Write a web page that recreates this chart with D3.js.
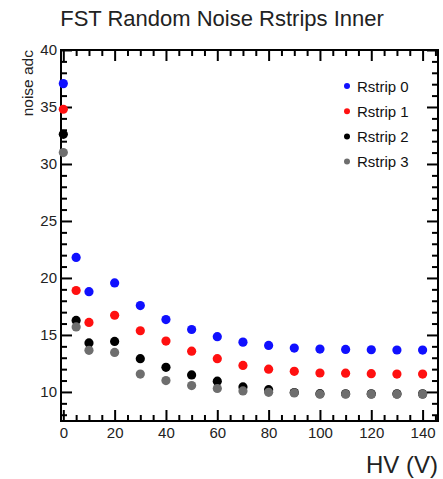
<!DOCTYPE html>
<html>
<head>
<meta charset="utf-8">
<script src="https://cdn.jsdelivr.net/npm/d3@7"></script>
<style>
  body { margin: 0; background: #fff; }
  text { font-family: "Liberation Sans", Arial, sans-serif; }
</style>
</head>
<body>
<div id="chart"></div>
<script>
const hv = [0, 5, 10, 20, 30, 40, 50, 60, 70, 80, 90, 100, 110, 120, 130, 140];
const rstrip0 = [37.05, 21.8, 18.8, 19.56, 17.58, 16.35, 15.48, 14.85, 14.37, 14.08, 13.85, 13.76, 13.73, 13.7, 13.68, 13.67];
const rstrip1 = [34.8, 18.9, 16.1, 16.73, 15.37, 14.46, 13.58, 12.92, 12.33, 12.0, 11.81, 11.66, 11.65, 11.6, 11.57, 11.57];
const rstrip2 = [32.6, 16.27, 14.3, 14.43, 12.92, 12.16, 11.49, 10.94, 10.44, 10.2, 9.95, 9.85, 9.84, 9.83, 9.83, 9.83];
const rstrip3 = [31.0, 15.7, 13.65, 13.47, 11.57, 11.0, 10.56, 10.3, 10.09, 9.97, 9.91, 9.8, 9.8, 9.8, 9.8, 9.8];
const seriesNames = ['Rstrip 0', 'Rstrip 1', 'Rstrip 2', 'Rstrip 3'];
const seriesColors = ['#1010ff', '#ff1010', '#000000', '#6e6e6e'];
const xMajor = [0, 20, 40, 60, 80, 100, 120, 140];
const yMajor = [10, 15, 20, 25, 30, 35, 40];

const width = 443, height = 479;
const margin = { top: 50, right: 5, bottom: 58, left: 61 };

const svg = d3.select('#chart').append('svg')
  .attr('width', width)
  .attr('height', height);

const x = d3.scaleLinear()
  .domain([-0.9, 146])
  .range([margin.left, width - margin.right]);
const y = d3.scaleLinear()
  .domain([7.45, 40])
  .range([height - margin.bottom, margin.top]);

const xMinor = d3.range(0, 146, 5).filter(v => v % 20 !== 0);
const yMinor = d3.range(8, 41, 1).filter(v => v % 5 !== 0);

const fmt = d => d;
const styleAxis = g => {
  g.select('.domain').remove();
  g.selectAll('line').attr('stroke', '#000').attr('stroke-width', 2);
  g.selectAll('text')
    .attr('fill', '#222')
    .attr('font-size', 15)
    .attr('font-family', '"Liberation Sans", Arial, sans-serif');
};

// bottom axis
svg.append('g')
  .attr('transform', `translate(0,${height - margin.bottom})`)
  .call(d3.axisBottom(x).tickValues(xMajor).tickFormat(fmt).tickSizeInner(-11).tickPadding(6))
  .call(styleAxis);
svg.append('g')
  .attr('transform', `translate(0,${height - margin.bottom})`)
  .call(d3.axisBottom(x).tickValues(xMinor).tickFormat('').tickSizeInner(-6))
  .call(styleAxis);
// top axis
svg.append('g')
  .attr('transform', `translate(0,${margin.top})`)
  .call(d3.axisTop(x).tickValues(xMajor).tickFormat('').tickSizeInner(-11))
  .call(styleAxis);
svg.append('g')
  .attr('transform', `translate(0,${margin.top})`)
  .call(d3.axisTop(x).tickValues(xMinor).tickFormat('').tickSizeInner(-6))
  .call(styleAxis);
// left axis
svg.append('g')
  .attr('transform', `translate(${margin.left},0)`)
  .call(d3.axisLeft(y).tickValues(yMajor).tickFormat(fmt).tickSizeInner(-11))
  .call(styleAxis)
  .call(g => g.selectAll('text').attr('x', -4));
svg.append('g')
  .attr('transform', `translate(${margin.left},0)`)
  .call(d3.axisLeft(y).tickValues(yMinor).tickFormat('').tickSizeInner(-6))
  .call(styleAxis);
// right axis
svg.append('g')
  .attr('transform', `translate(${width - margin.right},0)`)
  .call(d3.axisRight(y).tickValues(yMajor).tickFormat('').tickSizeInner(-11))
  .call(styleAxis);
svg.append('g')
  .attr('transform', `translate(${width - margin.right},0)`)
  .call(d3.axisRight(y).tickValues(yMinor).tickFormat('').tickSizeInner(-6))
  .call(styleAxis);

// frame
svg.append('rect')
  .attr('x', margin.left)
  .attr('y', margin.top)
  .attr('width', width - margin.left - margin.right)
  .attr('height', height - margin.top - margin.bottom)
  .attr('fill', 'none')
  .attr('stroke', '#000')
  .attr('stroke-width', 2);

// points
const series = [rstrip0, rstrip1, rstrip2, rstrip3];
series.forEach((vals, i) => {
  svg.append('g')
    .selectAll('circle')
    .data(vals)
    .join('circle')
    .attr('cx', (d, j) => x(hv[j]))
    .attr('cy', d => y(d))
    .attr('r', 4.6)
    .attr('fill', seriesColors[i]);
});

// legend
const legend = svg.append('g');
seriesNames.forEach((name, i) => {
  const ly = 86 + i * 25.2;
  legend.append('circle')
    .attr('cx', 347)
    .attr('cy', ly)
    .attr('r', 3)
    .attr('fill', seriesColors[i]);
  legend.append('text')
    .attr('x', 357)
    .attr('y', ly + 5.5)
    .attr('font-size', 15)
    .attr('fill', '#111')
    .text(name);
});

// titles
svg.append('text')
  .attr('x', 222)
  .attr('y', 26)
  .attr('text-anchor', 'middle')
  .attr('font-size', 22)
  .attr('fill', '#222')
  .text('FST Random Noise Rstrips Inner');

svg.append('text')
  .attr('transform', 'translate(33,50) rotate(-90)')
  .attr('text-anchor', 'end')
  .attr('font-size', 15.5)
  .attr('fill', '#222')
  .text('noise adc');

svg.append('text')
  .attr('x', 438)
  .attr('y', 473)
  .attr('text-anchor', 'end')
  .attr('font-size', 24)
  .attr('fill', '#222')
  .text('HV (V)');
</script>
</body>
</html>
